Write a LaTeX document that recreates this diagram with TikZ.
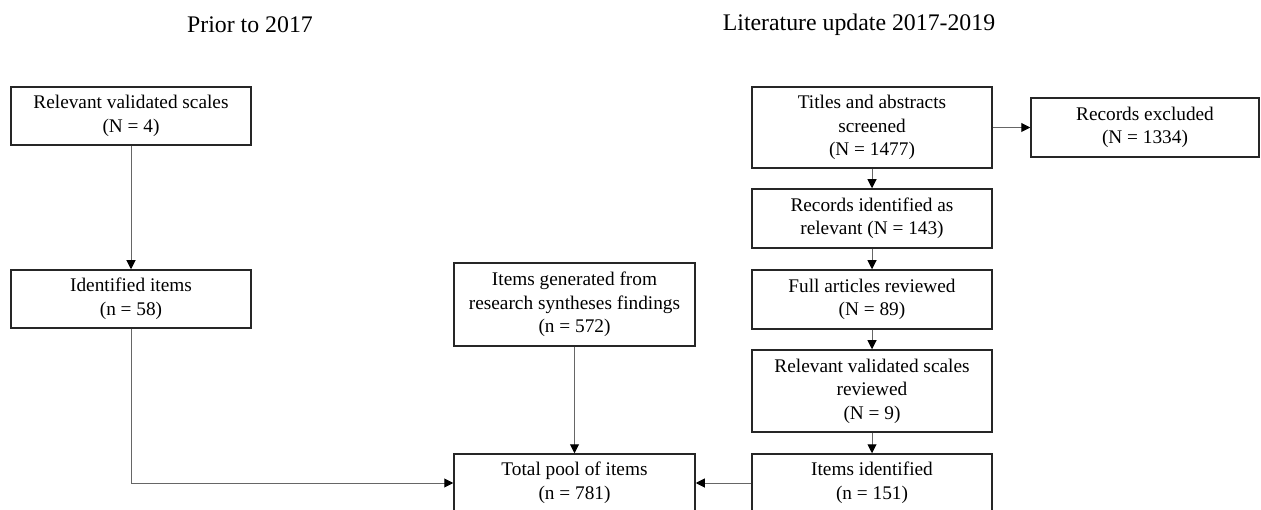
\documentclass[tikz,border=0pt]{standalone}
\usepackage{fontspec}
\setmainfont{Liberation Serif}
\usetikzlibrary{arrows.meta}
\begin{document}
\begin{tikzpicture}[x=1pt,y=-1pt,
  boxnode/.style={draw=black!85, line width=1.5pt, inner sep=0pt, align=center,
    font=\fontsize{19.3}{23.5}\selectfont, minimum width=240pt},
  conn/.style={draw=black!60, line width=1pt, -{Triangle[length=9pt,width=9pt,color=black]}},
  headtext/.style={font=\fontsize{23.8}{28}\selectfont, inner sep=0pt}
]
\useasboundingbox (0,0) rectangle (1261,510);
\clip (0,0) rectangle (1261,510);
\fill[white] (0,0) rectangle (1261,510);

\node[headtext] (h1) at (250,25) {Prior to 2017};
\node[headtext] (h2) at (859,25) {Literature update 2017-2019};

\node[boxnode, minimum height=58pt] (b1) at (131,116) {Relevant validated scales\\(N = 4)};
\node[boxnode, minimum height=58pt] (b2) at (131,299) {Identified items\\(n = 58)};
\node[boxnode, minimum width=241pt, minimum height=83pt] (b3) at (574.5,304.5) {Items generated from\\research syntheses findings\\(n = 572)};
\node[boxnode, minimum width=241pt, minimum height=58pt] (b4) at (574.5,483) {Total pool of items\\(n = 781)};

\node[boxnode, minimum height=81pt] (r1) at (872,127.5) {Titles and abstracts\\screened\\(N = 1477)};
\node[boxnode, minimum width=228pt, minimum height=59pt] (rx) at (1145,127.5) {Records excluded\\(N = 1334)};
\node[boxnode, minimum height=59pt] (r2) at (872,218.5) {Records identified as\\relevant (N = 143)};
\node[boxnode, minimum height=59pt] (r3) at (872,299.5) {Full articles reviewed\\(N = 89)};
\node[boxnode, minimum height=82pt] (r4) at (872,391) {Relevant validated scales\\reviewed\\(N = 9)};
\node[boxnode, minimum height=58pt] (r5) at (872,483) {Items identified\\(n = 151)};

\draw[conn] (b1.south) -- (b2.north);
\draw[conn] (b2.south) |- (b4.west);
\draw[conn] (b3.south) -- (b4.north);
\draw[conn] (r5.west) -- (b4.east);
\draw[conn] (r1.east) -- (rx.west);
\draw[conn] (r1.south) -- (r2.north);
\draw[conn] (r2.south) -- (r3.north);
\draw[conn] (r3.south) -- (r4.north);
\draw[conn] (r4.south) -- (r5.north);
\end{tikzpicture}
\end{document}
